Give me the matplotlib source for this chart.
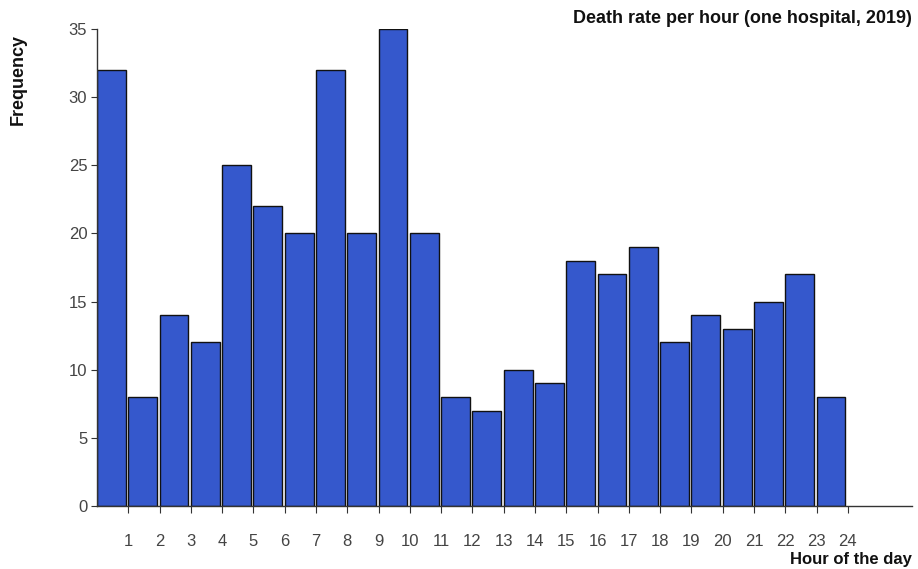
import matplotlib
matplotlib.use("Agg")
import matplotlib.pyplot as plt
import numpy as np

plt.rcParams['font.family'] = ['Liberation Sans', 'DejaVu Sans']

hours = list(range(1, 25))
frequency = [32, 8, 14, 12, 25, 22, 20, 32, 20, 35, 20, 8, 7, 10, 9, 18, 17, 19, 12, 14, 13, 15, 17, 8]
tick_labels = [str(h) for h in hours]
title = "Death rate per hour (one hospital, 2019)"
xlabel = "Hour of the day"
ylabel = "Frequency"

fig = plt.figure(figsize=(9.18, 5.69), dpi=100)
ax = fig.add_axes([0.1057, 0.1107, 0.8878, 0.8383])

left_edges = np.array(hours) - 1
ax.bar(left_edges, frequency, width=0.92, align='edge', color='#3558CC',
       edgecolor='#111111', linewidth=1.0)

ax.set_xlim(0, 26.05)
ax.set_ylim(0, 35)
ax.set_xticks(hours)
ax.set_xticklabels(tick_labels)
ax.set_yticks([0, 5, 10, 15, 20, 25, 30, 35])

for s in ['top', 'right']:
    ax.spines[s].set_visible(False)
for s in ['left', 'bottom']:
    ax.spines[s].set_color('#333333')
    ax.spines[s].set_linewidth(1.0)

ax.tick_params(axis='x', length=5, color='#333333', labelsize=12, labelcolor='#444444', pad=15)
ax.tick_params(axis='y', length=4, color='#333333', labelsize=12, labelcolor='#444444', pad=3)

fig.text(0.993, 0.968, title, ha='right', va='center', fontsize=13, fontweight='bold', color='#111111')
fig.text(0.993, 0.016, xlabel, ha='right', va='center', fontsize=12, fontweight='bold', color='#111111')
fig.text(0.02, 0.86, ylabel, ha='center', va='center', rotation=90, fontsize=13, fontweight='bold', color='#111111')

fig.savefig("out.png", dpi=100)
